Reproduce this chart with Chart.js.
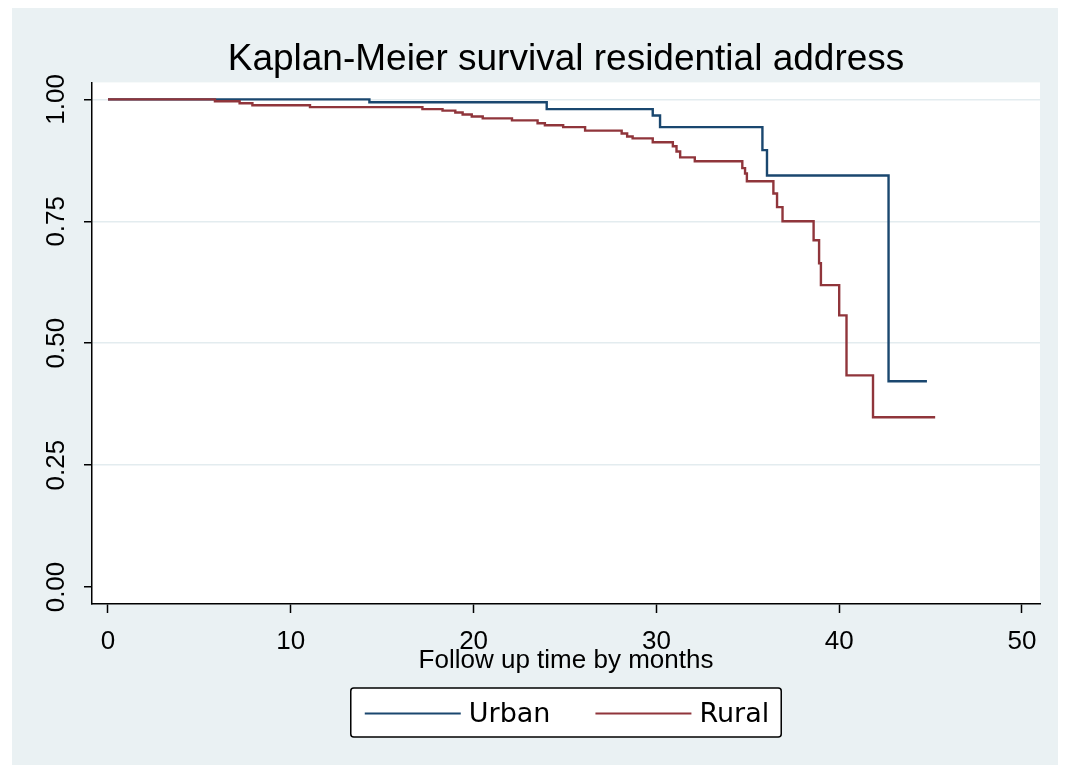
<!DOCTYPE html>
<html>
<head>
<meta charset="utf-8">
<title>Kaplan-Meier survival residential address</title>
<script src="https://cdn.jsdelivr.net/npm/chart.js@4.4.1/dist/chart.umd.min.js"></script>
<style>
  html, body { margin: 0; padding: 0; background: #fff; }
</style>
</head>
<body>
<canvas id="km" width="1069" height="772"></canvas>
<script>
// survival estimates (time in months)
const urbanTime = [0, 14.3, 24.0, 29.8, 30.2, 35.8, 36.05, 42.7, 44.8];
const urbanSurv = [1.0, 0.994, 0.980, 0.967, 0.943, 0.896, 0.844, 0.422, 0.422];

const ruralTime = [0, 5.85, 7.2, 7.9, 11.05, 17.2, 18.3, 19.0, 19.4, 19.9, 20.5, 22.1, 23.5, 23.9,
  24.9, 26.1, 28.1, 28.4, 28.7, 29.8, 30.9, 31.1, 31.3, 32.1, 34.7, 34.85, 34.95, 36.4, 36.6, 36.9,
  38.6, 38.9, 39.0, 40.0, 40.4, 41.85, 45.25];
const ruralSurv = [1.0, 0.996, 0.992, 0.988, 0.984, 0.980, 0.977, 0.973, 0.969, 0.965, 0.961, 0.957,
  0.951, 0.947, 0.943, 0.936, 0.930, 0.924, 0.920, 0.912, 0.904, 0.893, 0.881, 0.873, 0.859, 0.848,
  0.832, 0.807, 0.779, 0.750, 0.711, 0.664, 0.619, 0.557, 0.434, 0.348, 0.348];

const groups = ['Urban', 'Rural'];
const xTicks = [0, 10, 20, 30, 40, 50];
const yTicks = [0, 0.25, 0.5, 0.75, 1];

const sans = "'Liberation Sans', Arial, sans-serif";

const toPoints = (t, s) => t.map((v, i) => ({ x: v, y: s[i] }));

// grey graph region + white plot region, like stata's s2color
const backdrop = {
  id: 'backdrop',
  beforeDraw(chart) {
    const { ctx, chartArea: a, width, height } = chart;
    ctx.save();
    ctx.fillStyle = '#ffffff';
    ctx.fillRect(0, 0, width, height);
    ctx.fillStyle = '#eaf1f3';
    ctx.fillRect(12, 8, width - 23, height - 15);
    ctx.fillStyle = '#ffffff';
    ctx.fillRect(a.left, a.top, a.right - a.left, a.bottom - a.top);
    ctx.restore();
  }
};

// boxed legend under the axis title
const boxLegend = {
  id: 'boxLegend',
  afterDraw(chart) {
    const { ctx, chartArea: a } = chart;
    const lineLen = 96, gapText = 8, gapItem = 45, padL = 14, padR = 12, boxH = 49;
    ctx.save();
    ctx.font = "27px 'DejaVu Sans', sans-serif";
    const items = chart.data.datasets.map(d => ({
      label: d.label, color: d.borderColor, w: ctx.measureText(d.label).width
    }));
    let total = padL + padR;
    items.forEach((it, i) => { total += lineLen + gapText + it.w + (i ? gapItem : 0); });
    const boxX = (a.left + a.right) / 2 - total / 2;
    const boxY = chart.height - 84;
    ctx.fillStyle = '#ffffff';
    ctx.strokeStyle = '#000000';
    ctx.lineWidth = 1.5;
    ctx.beginPath();
    ctx.roundRect(boxX, boxY, total, boxH, 3);
    ctx.fill();
    ctx.stroke();
    const cy = boxY + boxH / 2 + 1;
    let x = boxX + padL;
    ctx.textBaseline = 'middle';
    ctx.textAlign = 'left';
    items.forEach(it => {
      ctx.strokeStyle = it.color;
      ctx.lineWidth = 2;
      ctx.beginPath();
      ctx.moveTo(x, cy);
      ctx.lineTo(x + lineLen, cy);
      ctx.stroke();
      x += lineLen + gapText;
      ctx.fillStyle = '#000000';
      ctx.fillText(it.label, x, cy + 1);
      x += it.w + gapItem;
    });
    ctx.restore();
  }
};

new Chart(document.getElementById('km'), {
  type: 'line',
  data: {
    datasets: [
      {
        label: groups[0],
        data: toPoints(urbanTime, urbanSurv),
        borderColor: '#1a476f',
        borderWidth: 2.4,
        stepped: 'before',
        pointRadius: 0,
        fill: false,
        order: 1
      },
      {
        label: groups[1],
        data: toPoints(ruralTime, ruralSurv),
        borderColor: '#90353b',
        borderWidth: 2.4,
        stepped: 'before',
        pointRadius: 0,
        fill: false,
        order: 0
      }
    ]
  },
  options: {
    responsive: false,
    animation: false,
    devicePixelRatio: 1,
    layout: { padding: { top: 0, left: 0, right: 29, bottom: 96 } },
    scales: {
      x: {
        type: 'linear',
        min: -0.875,
        max: 50.985,
        afterBuildTicks: s => { s.ticks = xTicks.map(v => ({ value: v })); },
        afterFit: s => { s.height = 72; },
        grid: { drawOnChartArea: false, tickLength: 9, tickColor: '#000', tickWidth: 1.5 },
        border: { color: '#000', width: 1.5 },
        ticks: { color: '#000', font: { family: sans, size: 26 }, padding: 13, maxRotation: 0, autoSkip: false },
        title: {
          display: true,
          text: 'Follow up time by months',
          color: '#000',
          font: { family: sans, size: 26 },
          padding: { top: 0, bottom: 0 }
        }
      },
      y: {
        type: 'linear',
        min: -0.0348,
        max: 1.0348,
        afterBuildTicks: s => { s.ticks = yTicks.map(v => ({ value: v })); },
        afterFit: s => { s.width = 92; },
        grid: {
          color: c => (c.tick && c.tick.value === 0 ? 'rgba(0,0,0,0)' : '#e3ecef'),
          lineWidth: 1.5,
          tickLength: 8,
          tickColor: '#000',
          tickWidth: 1.5
        },
        border: { color: '#000', width: 1.5 },
        ticks: {
          color: '#000',
          font: { family: sans, size: 26 },
          minRotation: 90,
          maxRotation: 90,
          crossAlign: 'center',
          padding: 2,
          callback: v => v.toFixed(2)
        }
      }
    },
    plugins: {
      legend: { display: false },
      tooltip: { enabled: false },
      title: {
        display: true,
        fullSize: false,
        text: 'Kaplan-Meier survival residential address',
        color: '#000',
        font: { family: sans, size: 37, weight: 'normal' },
        padding: { top: 38, bottom: 0 }
      }
    }
  },
  plugins: [backdrop, boxLegend]
});
</script>
</body>
</html>
